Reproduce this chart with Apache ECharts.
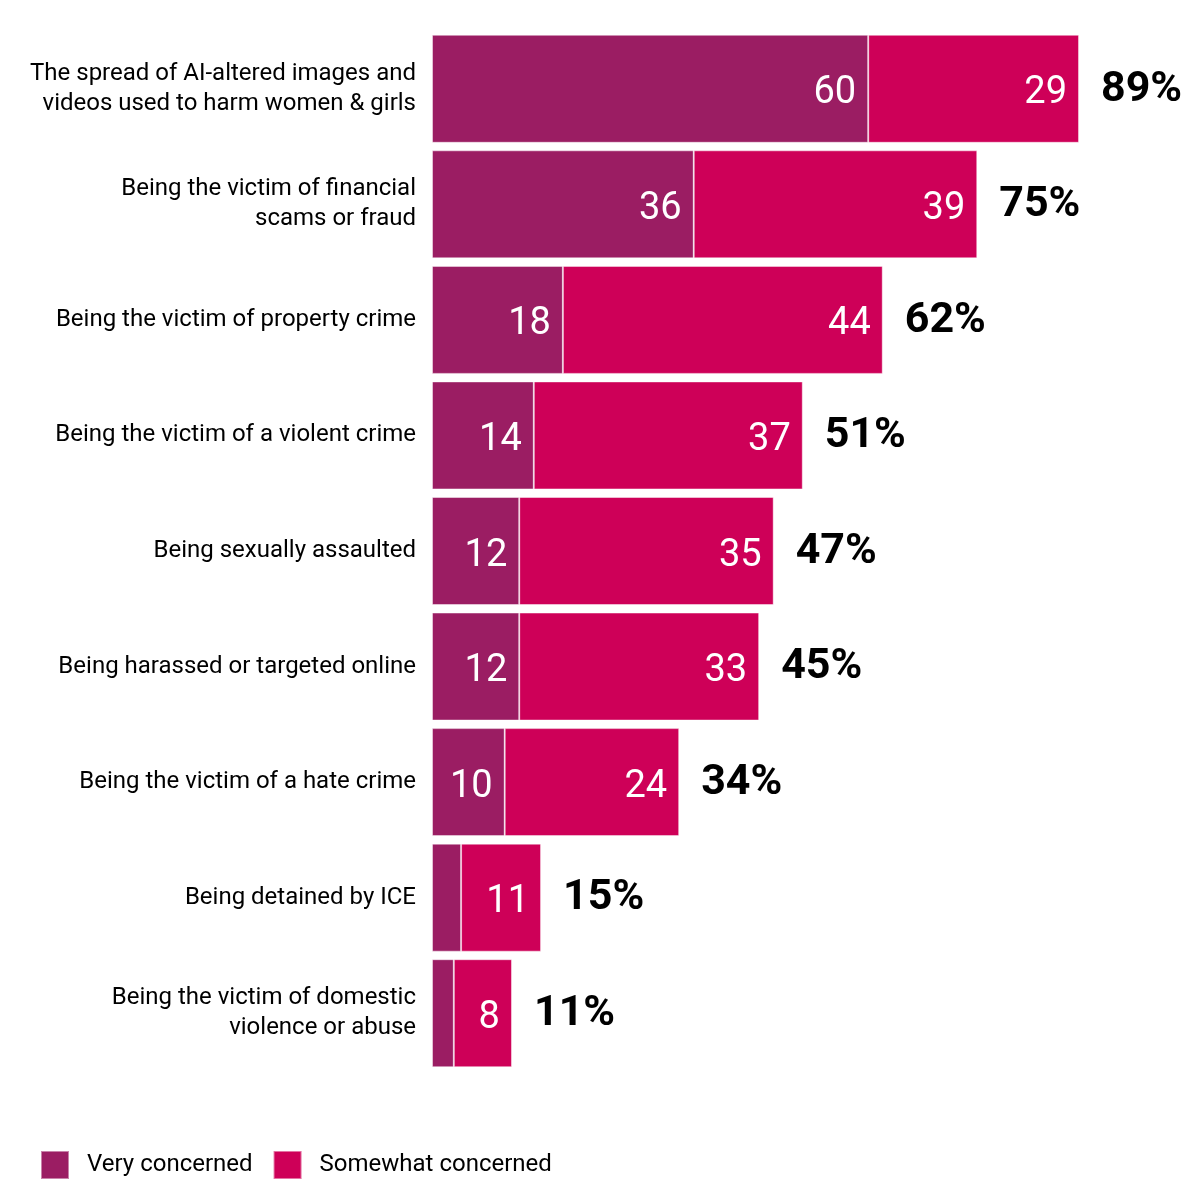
<!DOCTYPE html>
<html>
<head>
<meta charset="utf-8">
<script src="https://cdn.jsdelivr.net/npm/echarts@6/dist/echarts.min.js"></script>
<style>
  html, body { margin: 0; padding: 0; background: #fff; }
  #myChart { width: 1200px; height: 1200px; }
</style>
</head>
<body>
<div id="myChart"></div>
<script>
  const categories = [
    'The spread of AI-altered images and\nvideos used to harm women & girls',
    'Being the victim of financial\nscams or fraud',
    'Being the victim of property crime',
    'Being the victim of a violent crime',
    'Being sexually assaulted',
    'Being harassed or targeted online',
    'Being the victim of a hate crime',
    'Being detained by ICE',
    'Being the victim of domestic\nviolence or abuse'
  ];
  const veryConcerned = [60, 36, 18, 14, 12, 12, 10, 4, 3];
  const somewhatConcerned = [29, 39, 44, 37, 35, 33, 24, 11, 8];
  const totals = [89, 75, 62, 51, 47, 45, 34, 15, 11];

  const FONT = 'Roboto';
  let myChart = echarts.init(document.getElementById('myChart'));

  myChart.setOption({
    animation: false,
    legend: {
      data: ['Very concerned', 'Somewhat concerned'],
      left: 35,
      top: 1145,
      itemWidth: 28,
      itemHeight: 28,
      itemGap: 20,
      icon: 'rect',
      textStyle: {
        fontFamily: FONT,
        fontSize: 24,
        color: '#000',
        padding: [0, 0, 0, 13]
      }
    },
    grid: {
      left: 432,
      width: 727,
      top: 31,
      height: 1040
    },
    xAxis: {
      type: 'value',
      min: 0,
      max: 100,
      show: false
    },
    yAxis: {
      type: 'category',
      inverse: true,
      data: categories,
      axisLine: { show: false },
      axisTick: { show: false },
      axisLabel: {
        margin: 16,
        fontFamily: FONT,
        fontSize: 24,
        lineHeight: 30,
        color: '#000',
        align: 'right'
      }
    },
    series: [
      {
        name: 'Very concerned',
        type: 'bar',
        stack: 'all',
        barWidth: 108,
        data: veryConcerned,
        itemStyle: {
          color: '#9B1D63',
          borderColor: 'rgba(255,255,255,0.45)',
          borderWidth: 1
        },
        label: {
          show: true,
          position: 'insideRight',
          distance: 12,
          offset: [0, 5],
          color: '#fff',
          fontFamily: FONT,
          fontSize: 38,
          formatter: function (p) { return p.value < 5 ? '' : p.value; }
        }
      },
      {
        name: 'Somewhat concerned',
        type: 'bar',
        stack: 'all',
        barWidth: 108,
        data: somewhatConcerned,
        itemStyle: {
          color: '#CE0058',
          borderColor: 'rgba(255,255,255,0.45)',
          borderWidth: 1
        },
        label: {
          show: true,
          position: 'insideRight',
          distance: 12,
          offset: [0, 5],
          color: '#fff',
          fontFamily: FONT,
          fontSize: 38
        }
      },
      {
        name: 'Total',
        type: 'scatter',
        symbolSize: 0,
        itemStyle: { opacity: 1 },
        data: totals.map(function (t, i) { return [t, i]; }),
        label: {
          show: true,
          position: 'right',
          distance: 22,
          offset: [0, 1],
          color: '#000',
          opacity: 1,
          fontFamily: FONT,
          fontWeight: 'bold',
          fontSize: 43,
          formatter: function (p) { return p.value[0] + '%'; }
        }
      }
    ]
  });
</script>
</body>
</html>
